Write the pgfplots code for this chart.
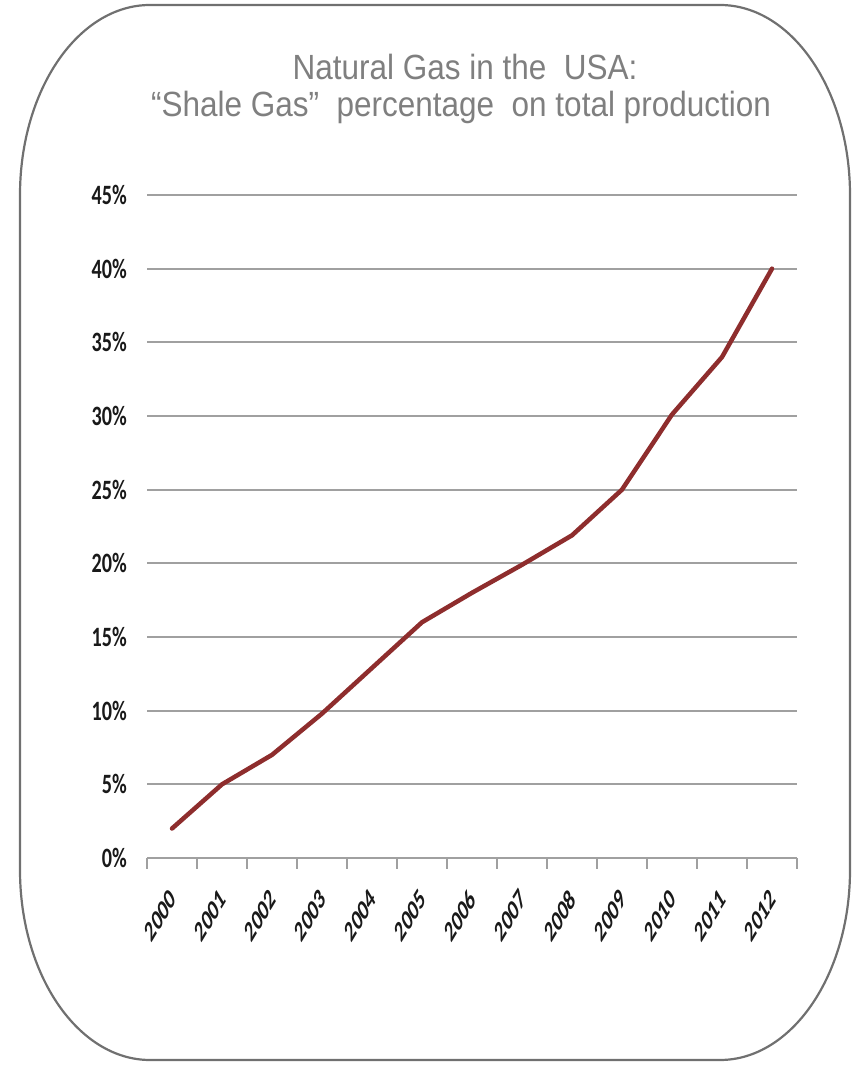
\documentclass[border=0pt]{standalone}
\usepackage{fontspec}
\usepackage{graphicx}
\setmainfont{Liberation Sans}
\newfontfamily\titlefont{Liberation Sans}[FakeStretch=0.9]
\newfontfamily\tickfont{Carlito}[FakeStretch=0.72]
\newfontfamily\xtickfont{Carlito}
\newcommand{\yl}[1]{\scalebox{0.6}[1]{\rotatebox{45}{#1}}}
\usepackage{pgfplots}
\pgfplotsset{compat=1.18}
\definecolor{linered}{HTML}{8E2D2D}
\definecolor{gridgray}{HTML}{A0A0A0}
\definecolor{framegray}{HTML}{707070}
\definecolor{titlegray}{HTML}{7F7F7F}
\begin{document}
\begin{tikzpicture}[x=1bp,y=1bp]
\useasboundingbox (0,0) rectangle (855,1065);
\draw[framegray, line width=2.2bp]
  (20,195) -- (20,870)
  arc[start angle=180, end angle=90, x radius=130, y radius=190]
  -- (720,1060)
  arc[start angle=90, end angle=0, x radius=130, y radius=190]
  -- (850,195)
  arc[start angle=0, end angle=-90, x radius=130, y radius=190]
  -- (150,5)
  arc[start angle=270, end angle=180, x radius=130, y radius=190]
  -- cycle;
\node[anchor=base, text=titlegray, font=\titlefont\fontsize{35bp}{38bp}\selectfont, inner sep=0] at (465,985) {Natural Gas in the \ USA:};
\node[anchor=base, text=titlegray, font=\titlefont\fontsize{35bp}{38bp}\selectfont, inner sep=0] at (461,948) {\char"201C Shale Gas\char"201D\ \ percentage \ on total production};
\begin{axis}[
  at={(147bp,207bp)}, anchor=south west,
  scale only axis, width=650bp, height=663bp,
  xmin=-0.5, xmax=12.5, ymin=0, ymax=45,
  axis line style={draw=none},
  xtick={0,...,12},
  xticklabels={,,,,,,,,,,,,},
  minor xtick={-0.5,0.5,...,12.5},
  major tick length=0pt,
  minor tick length=11bp,
  tick align=outside,
  xtick pos=bottom, ytick pos=left,
  minor tick style={gridgray, line width=1.6bp},
  ytick={0,5,...,45},
  yticklabels={0\%,5\%,10\%,15\%,20\%,25\%,30\%,35\%,40\%,45\%},
  ymajorgrids, grid style={gridgray, line width=2bp},
  /pgf/number format/assume math mode=true,
  yticklabel style={font=\tickfont\bfseries\fontsize{28bp}{30bp}\selectfont, text=black!90, anchor=east, inner sep=0pt, xshift=-20bp},
  clip=false,
]
\addplot[linered, line width=4.5bp, line join=round, line cap=round] coordinates {
(0,2) (1,5) (2,7) (3,9.8) (4,12.9) (5,16) (6,18) (7,19.9) (8,21.9) (9,25) (10,30.1) (11,34) (12,40)
};
\end{axis}
\foreach \i/\yr in {0/2000,1/2001,2/2002,3/2003,4/2004,5/2005,6/2006,7/2007,8/2008,9/2009,10/2010,11/2011,12/2012}
  \node[anchor=north east, inner sep=0pt, text=black!90, font=\xtickfont\bfseries\fontsize{29.5bp}{31bp}\selectfont] at ({177.5+50*\i},178) {\yl{\yr}};
\end{tikzpicture}
\end{document}
